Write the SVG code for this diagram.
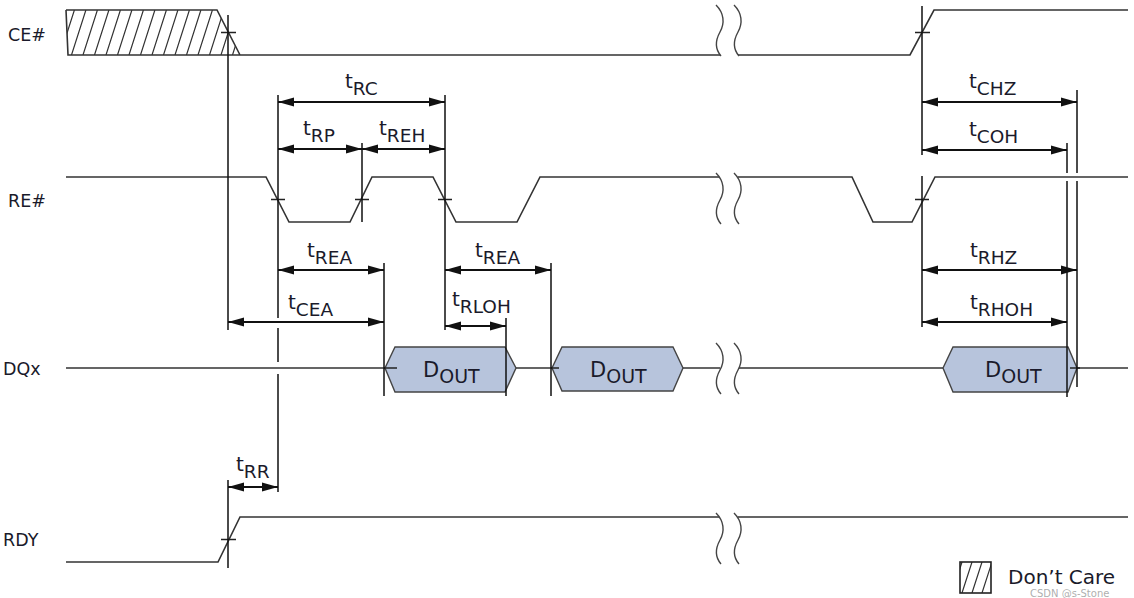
<svg xmlns="http://www.w3.org/2000/svg" xmlns:xlink="http://www.w3.org/1999/xlink" width="1134" height="598" viewBox="0 0 1134 598">
<style>
.sig{fill:none;stroke:#333;stroke-width:1.6;stroke-linejoin:miter}
.ext{fill:none;stroke:#111;stroke-width:1.5}
.dim{fill:none;stroke:#111;stroke-width:1.8;marker-start:url(#ah);marker-end:url(#ah)}
.tick{fill:none;stroke:#222;stroke-width:1.5}
.hat{fill:none;stroke:#333;stroke-width:1.2}
.brk{fill:none;stroke:#444;stroke-width:1.4}
.box{fill:#b7c4dc;stroke:#444;stroke-width:1.4}
.lab{font-family:"DejaVu Sans",Verdana,sans-serif;font-size:17.5px;fill:#1a1a2a}
.t{font-family:"DejaVu Sans",Verdana,sans-serif;font-size:20px;fill:#1a1a2a}
.s{font-size:18.5px}
.d{font-family:"DejaVu Sans",Verdana,sans-serif;font-size:21px;fill:#1a1a2a}
.ds{font-size:19px}
</style>
<defs>
<marker id="ah" viewBox="0 0 16 10" refX="16" refY="5" markerWidth="16" markerHeight="10" markerUnits="userSpaceOnUse" orient="auto-start-reverse">
<path d="M0,0.5 L16,5 L0,9.5 z" fill="#111"/>
</marker>
<path id="wave" class="brk" d="M0,0 C8,8 9,18 4,27 C-1,36 -1,44 5,51"/>
<clipPath id="ceClip"><polygon points="66,10 217,10 240,55 68,55"/></clipPath>
<clipPath id="lgClip"><rect x="960" y="562" width="31" height="31"/></clipPath>
</defs>
<rect width="1134" height="598" fill="#fff"/>

<!-- CE# -->
<g id="ce">
<text class="lab" x="8" y="41">CE#</text>
<g clip-path="url(#ceClip)">
<path class="hat" d="M48.5,55 l14.4,-45 M60,55 l14.4,-45 M71.5,55 l14.4,-45 M83,55 l14.4,-45 M94.5,55 l14.4,-45 M106,55 l14.4,-45 M117.5,55 l14.4,-45 M129,55 l14.4,-45 M140.5,55 l14.4,-45 M152,55 l14.4,-45 M163.5,55 l14.4,-45 M175,55 l14.4,-45 M186.5,55 l14.4,-45 M198,55 l14.4,-45 M209.5,55 l14.4,-45 M221,55 l14.4,-45 M232.5,55 l14.4,-45"/>
</g>
<path class="sig" d="M66,10 H217 L240,55 M66,10 L68,55 H720"/>
<path class="sig" d="M738,55 H910 L934,10 H1128"/>
<use xlink:href="#wave" x="716" y="5"/>
<use xlink:href="#wave" x="734" y="5"/>
<path class="tick" d="M221,32.5 H236 M915,32.5 H930"/>
</g>

<!-- RE# -->
<g id="re">
<text class="lab" x="8" y="207">RE#</text>
<path class="sig" d="M66,177 H266 L289,222 H350 L372,177 H433 L456,222 H517 L540,177 H719"/>
<path class="sig" d="M738,177 H852 L873,222 H912 L935,177 H1128"/>
<use xlink:href="#wave" x="716" y="173"/>
<use xlink:href="#wave" x="734" y="173"/>
<path class="tick" d="M271,199.5 H285 M355,199.5 H369 M438,199.5 H452 M915,199.5 H929"/>
</g>

<!-- DQx -->
<g id="dq">
<text class="lab" x="3" y="375">DQx</text>
<path class="sig" d="M66,368 H385 M516,368 H552 M683,368 H720 M739,368 H943 M1077,368 H1128"/>
<use xlink:href="#wave" x="716" y="343"/>
<use xlink:href="#wave" x="734" y="343"/>
</g>
<g id="dout1">
<polygon class="box" points="385,368 395,347 505,347 516,368 505,392 395,392"/>
<text class="d" x="423" y="377">D<tspan class="ds" dy="6">OUT</tspan></text>
</g>
<g id="dout2">
<polygon class="box" points="552,368 562,347 673,347 683,368 673,391 562,391"/>
<text class="d" x="590" y="377">D<tspan class="ds" dy="6">OUT</tspan></text>
</g>
<g id="dout3">
<polygon class="box" points="943,368 953,347 1068,347 1077,368 1068,392 953,392"/>
<text class="d" x="985" y="377">D<tspan class="ds" dy="6">OUT</tspan></text>
</g>
<path class="tick" d="M384,368 H397 M551,368 H559 M1070,368 H1080"/>

<!-- RDY -->
<g id="rdy">
<text class="lab" x="3" y="546">RDY</text>
<path class="sig" d="M66,562 H218 L240,517 H719 M738,517 H1128"/>
<use xlink:href="#wave" x="716" y="513"/>
<use xlink:href="#wave" x="734" y="513"/>
<path class="tick" d="M221,539.5 H236"/>
</g>

<!-- connectors: extension lines and timing arrows -->
<g id="connectors">
<path class="ext" d="M228,15 V330 M228,480 V568 M278,95 V318 M278,328 V362 M278,374 V492 M362,143 V222 M445,95 V330 M384,263 V396 M551,263 V396 M506,318 V396 M922,6 V155 M922,176 V327 M1077,90 V173 M1077,181 V387 M1067,143 V173 M1067,181 V397"/>
<line class="dim" x1="278" y1="102" x2="445" y2="102"/>
<line class="dim" x1="278" y1="149" x2="362" y2="149"/>
<line class="dim" x1="362" y1="149" x2="445" y2="149"/>
<line class="dim" x1="278" y1="270" x2="384" y2="270"/>
<line class="dim" x1="228" y1="322" x2="384" y2="322"/>
<line class="dim" x1="445" y1="270" x2="551" y2="270"/>
<line class="dim" x1="445" y1="326" x2="506" y2="326"/>
<line class="dim" x1="228" y1="487" x2="278" y2="487"/>
<line class="dim" x1="922" y1="102" x2="1077" y2="102"/>
<line class="dim" x1="922" y1="150" x2="1067" y2="150"/>
<line class="dim" x1="922" y1="270" x2="1077" y2="270"/>
<line class="dim" x1="922" y1="322" x2="1067" y2="322"/>
</g>

<g id="timing-labels">
<text class="t" x="345" y="88">t<tspan class="s" dy="7">RC</tspan></text>
<text class="t" x="303" y="135">t<tspan class="s" dy="7">RP</tspan></text>
<text class="t" x="379" y="135">t<tspan class="s" dy="7">REH</tspan></text>
<text class="t" x="307" y="257">t<tspan class="s" dy="7">REA</tspan></text>
<text class="t" x="288" y="309">t<tspan class="s" dy="7">CEA</tspan></text>
<text class="t" x="475" y="257">t<tspan class="s" dy="7">REA</tspan></text>
<text class="t" x="452" y="306">t<tspan class="s" dy="7">RLOH</tspan></text>
<text class="t" x="236" y="471">t<tspan class="s" dy="7">RR</tspan></text>
<text class="t" x="969" y="88">t<tspan class="s" dy="7">CHZ</tspan></text>
<text class="t" x="969" y="136">t<tspan class="s" dy="7">COH</tspan></text>
<text class="t" x="970" y="257">t<tspan class="s" dy="7">RHZ</tspan></text>
<text class="t" x="970" y="309">t<tspan class="s" dy="7">RHOH</tspan></text>
</g>

<!-- legend -->
<g id="legend">
<g clip-path="url(#lgClip)">
<path class="hat" d="M952,593 l10,-31 M962,593 l10,-31 M972,593 l10,-31 M982,593 l10,-31"/>
</g>
<rect x="960" y="562" width="31" height="31" fill="none" stroke="#222" stroke-width="1.6"/>
<text class="lab" style="font-size:20px" x="1008" y="584">Don’t Care</text>
<text x="1030" y="596.5" style="font-family:'DejaVu Sans',sans-serif;font-size:10px;fill:#999;fill-opacity:0.8">CSDN @s-Stone</text>
</g>
</svg>
